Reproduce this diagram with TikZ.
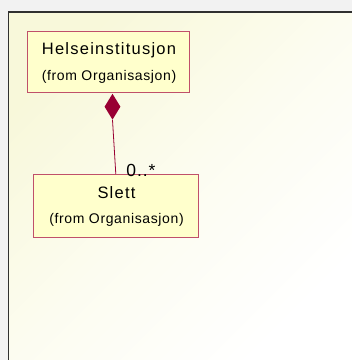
\documentclass[tikz,border=0pt]{standalone}
\usepackage{fontspec}
\setmainfont{Liberation Sans}
\usetikzlibrary{shapes.geometric}
\definecolor{outerbg}{HTML}{F2F2F2}
\definecolor{paleyellow}{HTML}{F8F8DA}
\definecolor{classfill}{HTML}{FFFFCC}
\definecolor{classline}{HTML}{C0506A}
\definecolor{assoc}{HTML}{990033}
\definecolor{framecol}{HTML}{303030}
\newcommand{\titlefont}{\fontsize{16.5}{18}\selectfont\addfontfeature{LetterSpace=7.5}}
\newcommand{\fromfont}{\fontsize{14}{16}\selectfont\addfontfeature{LetterSpace=4.5}}
\newcommand{\multfont}{\fontsize{17.5}{19}\selectfont\addfontfeature{LetterSpace=5}}
\begin{document}
\begin{tikzpicture}[x=1pt,y=-1pt,
  classbox/.style={draw=classline, fill=classfill, line width=1pt, rectangle, inner sep=0pt},
  classtext/.style={anchor=base, inner sep=0pt, text=black},
  link/.style={draw=assoc, line width=0.8pt},
  aggr/.style={diamond, fill=assoc, draw=none, inner sep=0pt, minimum width=16pt, minimum height=26pt}]
  \useasboundingbox (0,0) rectangle (352,360);
  % page background and diagram frame
  \fill[outerbg] (0,0) rectangle (352,360);
  \shade[top color=paleyellow, bottom color=white, middle color=white!60!paleyellow, shading angle=45] (8.5,12) rectangle (352,360);
  \draw[framecol, line width=1.2pt] (8.5,360) -- (8.5,12) -- (352,12);
  % classes
  \node[classbox, minimum width=162pt, minimum height=61pt] (helse) at (109,61.5) {};
  \node[classtext] (helsename) at (109,54.3) {\titlefont Helseinstitusjon};
  \node[classtext] (helsefrom) at (109,80) {\fromfont (from Organisasjon)};
  \node[classbox, minimum width=165pt, minimum height=63pt] (slett) at (116.5,205.5) {};
  \node[classtext] (slettname) at (116.5,198.5) {\titlefont Slett};
  \node[classtext] (slettfrom) at (116.5,223.5) {\fromfont (from Organisasjon)};
  % composition
  \node[aggr, anchor=north] (dia) at (112.5,93.5) {};
  \coordinate (slettend) at (115.8,174);
  \draw[link] (dia.south) -- (slettend);
  \node[anchor=base west, inner sep=0pt] (mult) at (126.3,176.3) {\multfont 0..*};
\end{tikzpicture}
\end{document}
